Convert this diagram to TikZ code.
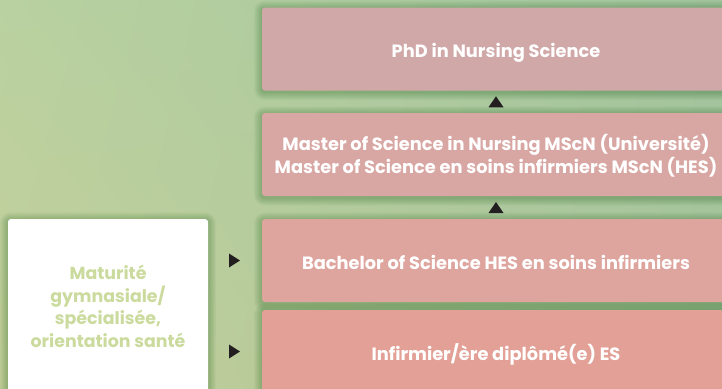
\documentclass[tikz,border=0pt]{standalone}
\usepackage{fontspec}
\setmainfont{Poppins}
\usetikzlibrary{calc,shadings,backgrounds}
\definecolor{bgUL}{HTML}{B9D1A0}
\definecolor{bgUR}{HTML}{A2C49E}
\definecolor{bgLL}{HTML}{C4CF9A}
\definecolor{bgLR}{HTML}{A8C49A}
\definecolor{phdc}{HTML}{D0A8A8}
\definecolor{mscc}{HTML}{D8A7A3}
\definecolor{bscc}{HTML}{DEA49E}
\definecolor{infc}{HTML}{E3A096}
\definecolor{greentext}{HTML}{CBDB9E}
\definecolor{arrowc}{HTML}{231F20}
\tikzset{
  level/.style={rounded corners=3pt, minimum width=468pt, minimum height=83pt, inner sep=0pt},
  leveltext/.style={text=white, font=\bfseries\fontsize{17.8}{23}\selectfont, align=center, inner sep=0pt},
  entry/.style={rounded corners=3pt, fill=white, minimum width=200pt, minimum height=175pt,
    text=greentext, font=\bfseries\fontsize{17.4}{22.5}\selectfont, align=center, inner sep=0pt},
  uparrow/.style={fill=arrowc},
  shadowlayer/.style={fill=black!70!green, fill opacity=0.032},
}
\begin{document}
\begin{tikzpicture}[x=1pt,y=-1pt]
\useasboundingbox (0,0) rectangle (722,388);
\clip (0,0) rectangle (722,388);
\node[level, fill=phdc] (phd) at (496,49) {};
\node[level, fill=mscc] (msc) at (496,154.5) {};
\node[level, fill=bscc] (bsc) at (496,260.5) {};
\node[level, fill=infc] (inf) at (496,351.5) {};
\node[leveltext] (phdt) at ($(phd.center)+(0,3.5)$) {PhD in Nursing Science};
\node[leveltext] (msct) at ($(msc.center)+(0,1.5)$) {Master of Science in Nursing MScN (Université)\\Master of Science en soins infirmiers MScN (HES)};
\node[leveltext] (bsct) at ($(bsc.center)+(0,1.5)$) {Bachelor of Science HES en soins infirmiers};
\node[leveltext] (inft) at ($(inf.center)+(0,3)$) {Infirmier/ère diplômé(e) ES};
\node[entry] (mat) at (108,306.5) {Maturité\\gymnasiale/\\spécialisée,\\orientation santé};
\begin{pgfonlayer}{background}
\shade[upper left=bgUL, upper right=bgUR, lower left=bgLL, lower right=bgLR] (0,0) rectangle (722,388);
\foreach \n in {phd,msc,bsc,inf,mat}{
  \foreach \k in {1,...,8}{
    \fill[shadowlayer, rounded corners=3pt+\k pt]
      ($(\n.north west)+(-\k,-\k+1.5)$) rectangle ($(\n.south east)+(\k,\k+1.5)$);
  }
}
\end{pgfonlayer}
% up arrows
\coordinate (a1) at ($(phd.south)!0.5!(msc.north)$);
\coordinate (a2) at ($(msc.south)!0.5!(bsc.north)$);
\foreach \c in {a1,a2}{
  \fill[uparrow] ($(\c)+(-7.5,5.5)$) -- ($(\c)+(7.5,5.5)$) -- ($(\c)+(0,-5.5)$) -- cycle;
}
% right arrows
\coordinate (r1) at ($(mat.east |- bsc.west)!0.5!(bsc.west)$);
\coordinate (r2) at ($(mat.east |- inf.west)!0.5!(inf.west)$);
\foreach \c in {r1,r2}{
  \fill[uparrow] ($(\c)+(-6,-7)$) -- ($(\c)+(-6,7)$) -- ($(\c)+(5,0)$) -- cycle;
}
\end{tikzpicture}
\end{document}
